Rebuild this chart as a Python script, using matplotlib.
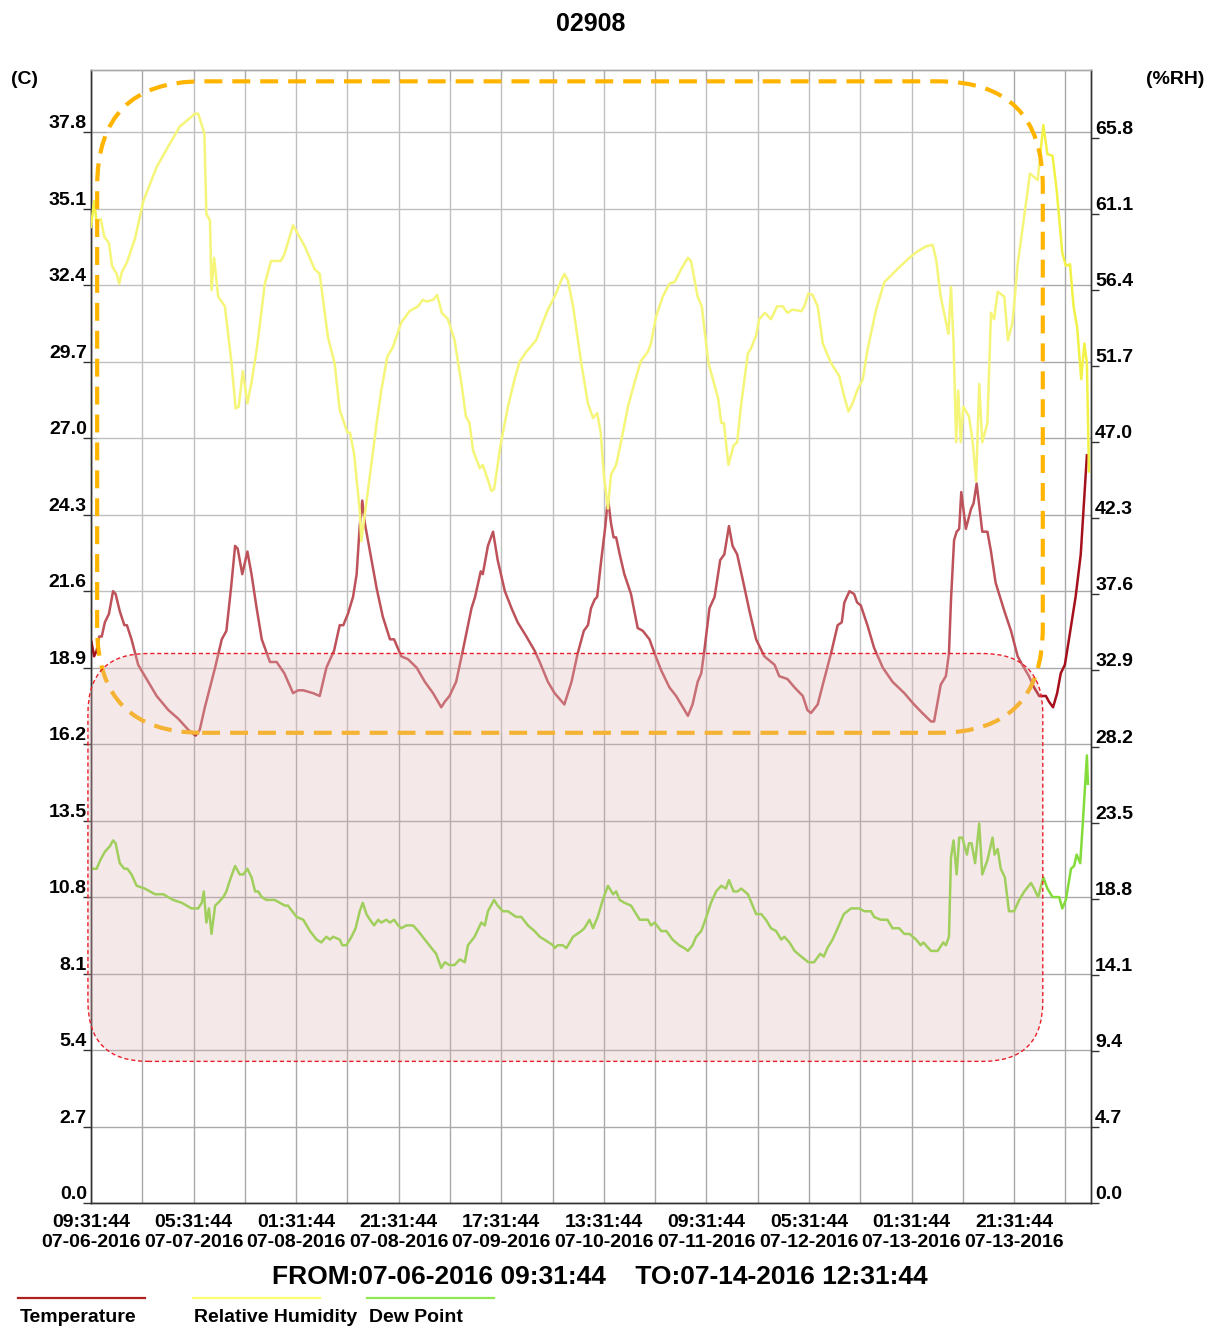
import matplotlib
matplotlib.use("Agg")
import matplotlib.pyplot as plt
from matplotlib.patches import FancyBboxPatch
from matplotlib.lines import Line2D

plt.rcParams['font.family'] = ['Liberation Sans', 'DejaVu Sans']

# ---------------- data ----------------
title = "02908"
left_unit = "(C)"
right_unit = "(%RH)"
range_text = "FROM:07-06-2016 09:31:44    TO:07-14-2016 12:31:44"
series_names = ["Temperature", "Relative Humidity", "Dew Point"]

# x axis: hours since 07-06-2016 09:31:44
x_tick_hours = [0, 20, 40, 60, 80, 100, 120, 140, 160, 180]
x_tick_times = ["09:31:44", "05:31:44", "01:31:44", "21:31:44", "17:31:44",
                "13:31:44", "09:31:44", "05:31:44", "01:31:44", "21:31:44"]
x_tick_dates = ["07-06-2016", "07-07-2016", "07-08-2016", "07-08-2016", "07-09-2016",
                "07-10-2016", "07-11-2016", "07-12-2016", "07-13-2016", "07-13-2016"]
x_grid_hours = [10, 30, 50, 70, 90, 110, 130, 150, 170, 190]

left_ticks = [0.0, 2.7, 5.4, 8.1, 10.8, 13.5, 16.2, 18.9, 21.6, 24.3, 27.0, 29.7, 32.4, 35.1, 37.8]
right_ticks = [0.0, 4.7, 9.4, 14.1, 18.8, 23.5, 28.2, 32.9, 37.6, 42.3, 47.0, 51.7, 56.4, 61.1, 65.8]

temp_h = [0.1, 0.6, 1.1, 1.6, 2.1, 2.7, 3.5, 4.3, 4.8, 5.6, 6.5, 7.0, 7.9, 9.2, 10.5, 12.8, 15.1,
          17.0, 19.0, 20.4, 21.2, 22.2, 23.2, 24.2, 25.5, 26.4, 27.3, 28.1, 28.6, 29.5, 30.5,
          31.3, 32.3, 33.3, 34.9, 36.2, 37.7, 39.4, 40.4, 41.4, 43.3, 44.6, 45.9, 47.4, 48.5,
          49.2, 50.1, 51.1, 51.8, 52.4, 52.9, 53.4, 54.0, 55.7, 56.9, 58.3, 59.1, 60.5, 61.8,
          63.5, 65.1, 66.7, 68.3, 69.0, 69.9, 71.2, 72.5, 74.2, 74.9, 76.0, 76.4, 77.4, 78.4,
          79.3, 80.7, 82.0, 83.2, 84.9, 86.5, 87.5, 89.1, 90.4, 92.3, 93.7, 94.9, 96.1, 96.9,
          97.5, 98.2, 98.7, 99.5, 100.3, 100.8, 101.4, 101.9, 102.4, 103.1, 104.0, 105.3, 106.6,
          107.6, 108.9, 109.9, 111.2, 112.8, 114.1, 115.4, 116.4, 117.3, 118.3, 119.0, 119.6,
          120.6, 121.6, 122.7, 123.5, 124.4, 125.1, 126.0, 127.1, 128.4, 129.7, 131.3, 133.3,
          134.2, 135.8, 137.2, 138.8, 139.7, 140.4, 141.7, 142.7, 144.3, 145.6, 146.4, 146.9,
          147.9, 148.8, 149.4, 150.1, 151.4, 152.7, 154.4, 156.3, 158.6, 160.5, 162.1, 163.8,
          164.4, 165.7, 166.7, 167.3, 167.7, 168.3, 168.8, 169.3, 169.7, 170.6, 171.6, 172.1,
          172.7, 173.8, 174.8, 175.5, 176.4, 178.1, 179.4, 180.7, 181.6, 182.9, 183.9, 184.9,
          186.2, 186.8, 187.6, 188.4, 189.1, 189.9, 190.7, 192.0, 193.0, 194.2]
temp_c = [19.8, 19.3, 19.5, 20.0, 20.0, 20.5, 20.8, 21.6, 21.5, 20.9, 20.4, 20.4, 19.9, 19.0, 18.6,
          17.9, 17.4, 17.1, 16.7, 16.5, 16.7, 17.5, 18.2, 18.9, 19.9, 20.2, 21.7, 23.2, 23.1, 22.2,
          23.0, 22.2, 21.0, 19.9, 19.1, 19.1, 18.7, 18.0, 18.1, 18.1, 18.0, 17.9, 18.9, 19.5, 20.4,
          20.4, 20.8, 21.4, 22.2, 23.9, 24.8, 24.0, 23.4, 21.7, 20.7, 19.9, 19.9, 19.3, 19.2, 18.9,
          18.4, 18.0, 17.5, 17.7, 17.9, 18.4, 19.5, 21.0, 21.4, 22.3, 22.2, 23.2, 23.7, 22.7, 21.6,
          21.0, 20.5, 20.0, 19.5, 19.1, 18.4, 18.0, 17.6, 18.4, 19.4, 20.2, 20.4, 21.0, 21.3, 21.4,
          22.7, 23.9, 24.9, 24.0, 23.5, 23.5, 22.9, 22.2, 21.5, 20.3, 20.2, 19.9, 19.4, 18.8, 18.2,
          17.9, 17.5, 17.2, 17.6, 18.4, 18.7, 19.5, 21.0, 21.4, 22.7, 22.9, 23.9, 23.2, 22.9, 22.0,
          20.9, 19.9, 19.3, 19.0, 18.6, 18.5, 18.2, 17.9, 17.4, 17.3, 17.6, 18.3, 19.4, 20.4, 20.5,
          21.2, 21.6, 21.5, 21.2, 21.1, 20.4, 19.6, 18.9, 18.4, 18.0, 17.6, 17.3, 17.0, 17.0, 18.3,
          18.6, 19.4, 21.3, 23.4, 23.7, 23.8, 25.1, 23.8, 24.5, 24.7, 25.4, 23.7, 23.7, 23.0, 21.9,
          20.9, 20.2, 19.3, 19.0, 18.6, 18.2, 17.9, 17.9, 17.7, 17.5, 18.0, 18.7, 19.0, 19.9, 21.4,
          22.9, 26.4]

rh_h = [0.0, 0.6, 1.1, 1.9, 2.6, 3.5, 4.1, 5.0, 5.5, 6.0, 7.0, 8.6, 10.2, 12.8, 15.1, 17.3, 20.3,
        20.9, 22.1, 22.5, 23.2, 23.5, 24.0, 24.8, 26.1, 27.4, 28.2, 28.8, 29.6, 30.5, 31.3, 32.3,
        33.9, 35.1, 37.0, 37.7, 39.4, 41.7, 43.6, 44.6, 46.2, 47.5, 48.5, 50.0, 50.5, 51.3, 52.4,
        52.7, 54.0, 55.7, 56.6, 57.8, 58.9, 60.5, 62.1, 63.8, 64.7, 65.4, 66.7, 67.5, 68.4, 69.6,
        70.9, 72.2, 73.1, 73.8, 74.5, 75.8, 76.4, 78.1, 78.6, 79.9, 81.3, 82.6, 83.6, 84.9, 86.8,
        88.1, 89.1, 90.4, 91.7, 92.3, 93.0, 94.0, 95.6, 96.9, 97.9, 98.7, 99.4, 100.0, 100.8,
        101.4, 102.4, 103.4, 104.7, 106.0, 107.2, 108.6, 109.2, 110.2, 111.5, 112.8, 113.8, 115.1,
        116.4, 117.0, 118.3, 119.1, 120.4, 121.6, 122.3, 122.9, 123.4, 124.3, 125.3, 126.0, 126.8,
        128.1, 128.7, 129.7, 130.3, 131.4, 132.6, 133.8, 134.9, 135.8, 136.8, 138.5, 139.1, 139.9,
        140.7, 141.7, 142.7, 144.3, 145.1, 145.9, 146.9, 147.7, 148.5, 149.4, 150.5, 151.4, 153.1,
        154.7, 156.0, 156.6, 157.9, 159.6, 161.2, 162.8, 164.1, 164.8, 165.7, 167.2, 167.7, 168.2,
        168.7, 169.1, 169.6, 170.1, 171.2, 171.9, 172.6, 173.2, 173.8, 174.8, 175.5, 176.1, 176.8,
        178.1, 178.8, 179.7, 180.7, 181.6, 183.1, 184.6, 185.7, 186.5, 187.5, 188.3, 189.4, 190.1,
        190.9, 191.6, 192.3, 193.1, 193.7, 194.2, 194.6]
rh_pct = [60.3, 61.9, 60.6, 60.8, 59.7, 59.3, 57.9, 57.4, 56.8, 57.5, 58.1, 59.6, 61.9, 64.0, 65.3,
          66.5, 67.3, 67.3, 66.1, 61.1, 60.7, 56.4, 58.4, 56.0, 55.4, 51.9, 49.1, 49.2, 51.4, 49.4,
          50.7, 52.7, 56.8, 58.2, 58.2, 58.6, 60.4, 59.1, 57.7, 57.4, 53.5, 51.9, 49.0, 47.6, 47.6,
          46.3, 42.8, 40.9, 44.0, 48.2, 50.2, 52.3, 52.9, 54.4, 55.1, 55.4, 55.8, 55.7, 55.8, 56.1,
          55.0, 54.6, 53.3, 50.7, 48.6, 48.2, 46.5, 45.4, 45.6, 44.0, 44.1, 46.9, 49.2, 50.9, 52.0,
          52.6, 53.3, 54.4, 55.2, 56.0, 57.0, 57.4, 57.0, 55.4, 51.9, 49.4, 48.5, 48.8, 47.6, 45.0,
          42.9, 45.0, 45.6, 47.1, 49.2, 50.7, 52.0, 52.6, 53.1, 54.8, 56.0, 56.8, 56.9, 57.7, 58.4,
          58.2, 56.0, 55.4, 51.9, 50.5, 49.7, 48.2, 48.2, 45.6, 46.8, 47.0, 49.4, 52.5, 52.8, 53.6,
          54.6, 55.0, 54.6, 55.4, 55.4, 55.0, 55.2, 55.1, 55.4, 56.2, 56.1, 55.4, 53.1, 51.9, 51.5,
          51.1, 49.8, 48.9, 49.4, 50.2, 50.9, 52.7, 55.2, 56.9, 57.3, 57.5, 57.9, 58.4, 58.8, 59.1,
          59.2, 58.3, 56.0, 53.7, 56.6, 53.1, 47.0, 50.2, 47.0, 49.2, 48.6, 47.1, 44.6, 50.6, 47.0,
          48.2, 55.0, 54.6, 56.3, 56.0, 53.3, 54.4, 58.0, 60.1, 63.6, 63.2, 66.6, 64.8, 64.7, 62.6,
          58.7, 57.9, 58.0, 55.4, 54.1, 50.9, 53.1, 51.9, 45.2]

dp_h = [0.1, 1.1, 1.8, 2.7, 3.7, 4.3, 4.8, 5.6, 6.5, 7.1, 7.9, 8.9, 10.5, 12.5, 14.1, 16.0, 17.7,
        19.6, 20.9, 21.6, 22.0, 22.5, 23.0, 23.5, 24.2, 24.8, 25.8, 26.4, 27.1, 28.1, 29.0, 29.7,
        30.5, 31.3, 32.0, 32.6, 33.3, 34.2, 35.8, 37.8, 38.4, 40.1, 41.4, 42.7, 44.0, 44.9, 45.9,
        46.6, 47.2, 48.5, 49.0, 49.8, 50.8, 51.6, 52.4, 53.0, 53.7, 54.4, 55.2, 56.0, 56.6, 57.6,
        58.3, 59.1, 59.9, 60.5, 61.5, 62.8, 63.8, 65.1, 66.4, 67.3, 68.3, 69.0, 69.9, 70.9, 71.9,
        72.9, 73.5, 74.8, 76.1, 76.8, 77.4, 78.6, 79.3, 80.3, 81.3, 82.9, 83.9, 85.2, 86.5, 87.5,
        88.4, 90.1, 90.4, 91.0, 92.0, 92.7, 94.0, 94.8, 95.6, 96.2, 97.2, 97.9, 98.8, 99.8, 100.8,
        101.8, 102.4, 103.1, 104.0, 105.3, 107.0, 108.6, 109.2, 109.9, 111.2, 112.2, 113.4, 114.7,
        115.7, 116.4, 117.3, 118.0, 119.0, 119.8, 120.9, 121.9, 122.9, 123.8, 124.4, 125.3, 126.1,
        126.8, 128.1, 129.7, 130.7, 131.6, 132.6, 133.6, 134.6, 135.2, 136.2, 137.2, 138.5, 139.9,
        141.0, 142.2, 142.9, 143.6, 144.6, 145.6, 146.8, 148.2, 149.8, 150.8, 152.1, 152.7, 154.0,
        155.3, 156.3, 157.6, 158.6, 159.6, 160.9, 161.8, 162.3, 163.8, 165.1, 166.2, 166.7, 167.3,
        167.7, 168.2, 168.8, 169.3, 169.9, 170.8, 171.2, 171.7, 172.4, 173.2, 173.8, 174.8, 175.8,
        176.2, 176.8, 177.4, 178.2, 179.0, 180.0, 181.0, 182.0, 183.3, 183.9, 184.7, 185.7, 186.5,
        187.5, 188.8, 189.4, 190.1, 191.1, 191.7, 192.2, 192.9, 193.4, 194.2, 194.4]
dp_c = [11.8, 11.8, 12.1, 12.4, 12.6, 12.8, 12.7, 12.0, 11.8, 11.8, 11.6, 11.2, 11.1, 10.9, 10.9,
        10.7, 10.6, 10.4, 10.4, 10.6, 11.0, 9.9, 10.4, 9.5, 10.5, 10.6, 10.8, 11.0, 11.4, 11.9,
        11.6, 11.6, 11.8, 11.5, 11.0, 11.0, 10.8, 10.7, 10.7, 10.5, 10.5, 10.1, 10.0, 9.6, 9.3,
        9.2, 9.4, 9.3, 9.4, 9.3, 9.1, 9.1, 9.4, 9.7, 10.3, 10.6, 10.2, 10.0, 9.8, 10.0, 9.9, 10.0,
        9.9, 10.0, 9.8, 9.7, 9.8, 9.8, 9.6, 9.3, 9.0, 8.8, 8.3, 8.5, 8.4, 8.4, 8.6, 8.5, 9.1, 9.4,
        9.9, 9.8, 10.3, 10.7, 10.5, 10.3, 10.3, 10.1, 10.1, 9.8, 9.6, 9.4, 9.3, 9.1, 9.0, 9.1, 9.1,
        9.0, 9.4, 9.5, 9.6, 9.7, 10.0, 9.7, 10.1, 10.7, 11.2, 10.9, 11.0, 10.7, 10.6, 10.5, 10.0,
        10.0, 9.8, 9.9, 9.6, 9.6, 9.3, 9.1, 9.0, 8.9, 9.1, 9.4, 9.6, 10.0, 10.6, 11.0, 11.2, 11.1,
        11.4, 11.0, 11.0, 11.1, 10.9, 10.2, 10.2, 10.0, 9.7, 9.6, 9.3, 9.4, 9.2, 8.9, 8.7, 8.5,
        8.5, 8.8, 8.7, 9.0, 9.3, 9.7, 10.2, 10.4, 10.4, 10.3, 10.3, 10.1, 10.0, 10.0, 9.7, 9.7,
        9.5, 9.5, 9.3, 9.1, 9.2, 8.9, 8.9, 9.2, 9.1, 9.4, 12.2, 12.8, 11.6, 12.9, 12.9, 12.3,
        12.7, 12.7, 12.0, 13.4, 11.6, 12.1, 12.9, 12.3, 12.5, 11.8, 11.5, 10.3, 10.3, 10.7, 11.0,
        11.3, 11.1, 10.8, 11.5, 11.1, 10.8, 10.8, 10.4, 10.7, 11.8, 11.9, 12.3, 12.0, 13.4, 15.8,
        14.8]

# ---------------- figure ----------------
W, H = 1209, 1328
fig = plt.figure(figsize=(W / 100, H / 100), dpi=100)
ax = fig.add_axes([91 / W, 125 / H, 1000 / W, 1133 / H])
ax.set_xlim(0, 195)
ax.set_ylim(0, 40)
ax2 = ax.twinx()
ax2.set_ylim(0, 70)

grid_col = '#a9a9a9'
ax.set_xticks(x_tick_hours,
              labels=[t + "\n" + d for t, d in zip(x_tick_times, x_tick_dates)],
              fontsize=14, fontweight='bold', linespacing=1.25)
ax.set_xticks(x_grid_hours, minor=True)
ax.tick_params(axis='x', which='both', length=0, pad=8)
ax.grid(True, axis='x', which='both', color=grid_col, lw=1)

ax.set_yticks(left_ticks, labels=[f"{v:.1f}" for v in left_ticks],
              fontsize=14, fontweight='bold', va='bottom')
ax.tick_params(axis='y', direction='out', length=6, width=1, pad=-3, color='#333333')
ax.grid(True, axis='y', which='major', color=grid_col, lw=1)
ax.set_axisbelow(True)

ax2.set_yticks(right_ticks, labels=[f"{v:.1f}" for v in right_ticks],
               fontsize=14, fontweight='bold', va='bottom')
ax2.tick_params(axis='y', direction='out', length=6, width=1, pad=-3, color='#333333')

for a in (ax, ax2):
    for s in a.spines.values():
        s.set_color('#333333')
        s.set_linewidth(1)
ax.spines['top'].set_color(grid_col)
ax2.spines['top'].set_color(grid_col)

# series
ax.plot(temp_h, temp_c, color='#a5101c', lw=1.8, zorder=3)
ax.plot(dp_h, dp_c, color='#84dc3a', lw=1.8, zorder=3)
ax2.plot(rh_h, rh_pct, color='#f2f246', lw=1.8, zorder=3)

# annotation boxes (in left-axis data units, rounded in pixel space)
px_h = 1000 / 195.0
px_c = 1133 / 40.0
orange_box = FancyBboxPatch((1.2, 16.6), 184.4, 23.0,
                            boxstyle=f"round,pad=0,rounding_size={105 / px_h}",
                            mutation_aspect=px_h / px_c, transform=ax.transData,
                            facecolor=(1, 1, 1, 0.28), edgecolor='#ffb400', lw=3,
                            linestyle=(0, (4.3, 2.4)), zorder=10, clip_on=False)
pink_box = FancyBboxPatch((-0.6, 5.0), 186.2, 14.4,
                          boxstyle=f"round,pad=0,rounding_size={60 / px_h}",
                          mutation_aspect=px_h / px_c, transform=ax.transData,
                          facecolor=(0.882, 0.70, 0.70, 0.30), edgecolor='#e8202a', lw=1,
                          linestyle=(0, (3, 2)), zorder=11, clip_on=False)
ax2.add_patch(orange_box)
ax2.add_patch(pink_box)

# texts
fig.text(591 / W, 1 - 24 / H, title, ha='center', va='center', fontsize=18, fontweight='bold')
fig.text(24 / W, 1 - 80 / H, left_unit, ha='center', va='center', fontsize=14, fontweight='bold')
fig.text(1175 / W, 1 - 80 / H, right_unit, ha='center', va='center', fontsize=14, fontweight='bold')
fig.text(600 / W, 1 - 1277 / H, range_text, ha='center', va='center', fontsize=19, fontweight='bold')

# legend
legend_colors = ['#b02020', '#ffff70', '#90e850']
legend_x = [(18, 145, 20), (193, 320, 194), (367, 494, 369)]
for name, col, (x0, x1, tx) in zip(series_names, legend_colors, legend_x):
    fig.add_artist(Line2D([x0 / W, x1 / W], [1 - 1298 / H, 1 - 1298 / H],
                          transform=fig.transFigure, color=col, lw=1.6))
    fig.text(tx / W, 1 - 1317 / H, name, ha='left', va='center', fontsize=14, fontweight='bold')

fig.savefig("out.png", dpi=100)
